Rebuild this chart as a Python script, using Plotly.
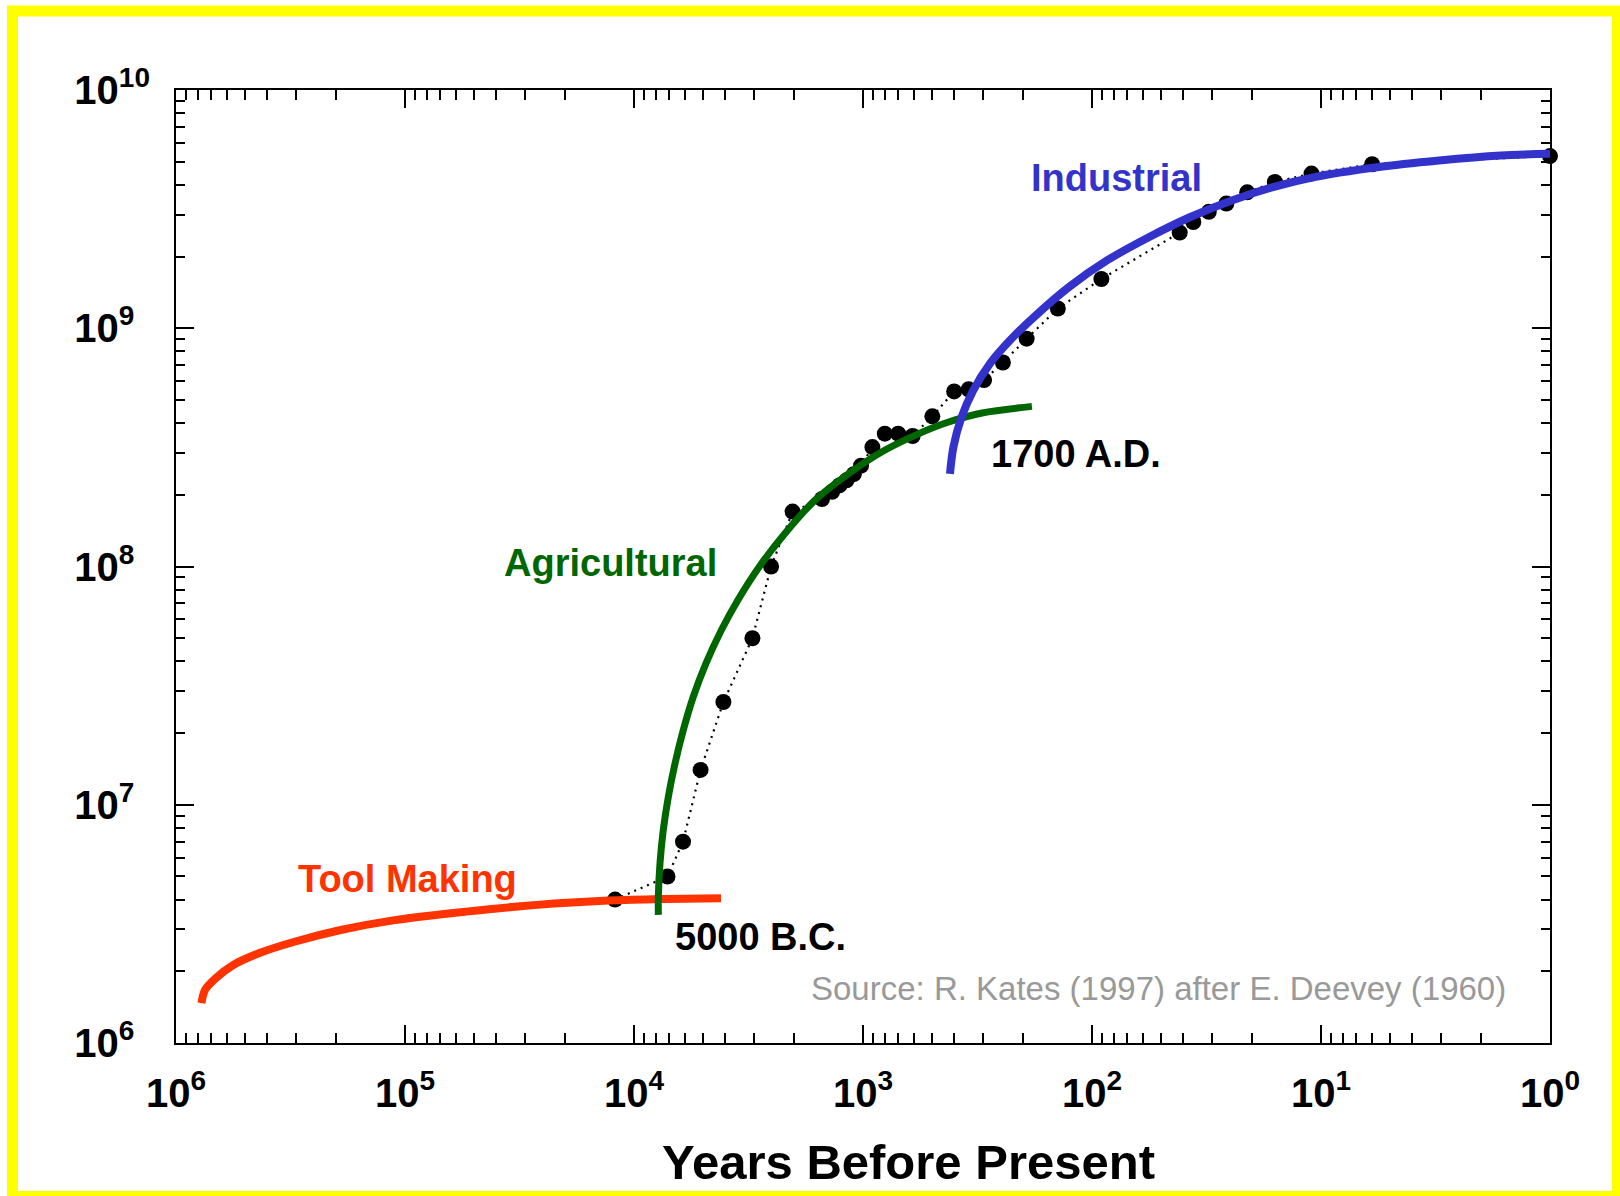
import plotly.graph_objects as go

# ---------------- data ----------------
# Population estimates (dots), years before present
obs_years = [12100, 7140, 6110, 5120, 4070, 3040, 2520, 2030, 1510, 1365, 1268, 1180,
             1097, 1020, 910, 803, 702, 607, 498, 400, 346, 296, 245, 193, 141, 91,
             41.4, 36.1, 30.9, 25.9, 21.0, 15.9, 11.0, 5.98, 1]
obs_pop = [4.0e6, 5.0e6, 7.0e6, 1.4e7, 2.7e7, 5.0e7, 1.0e8, 1.7e8, 1.92e8, 2.06e8,
           2.19e8, 2.30e8, 2.44e8, 2.65e8, 3.17e8, 3.61e8, 3.61e8, 3.53e8, 4.27e8,
           5.43e8, 5.54e8, 6.06e8, 7.18e8, 9.04e8, 1.21e9, 1.61e9, 2.52e9, 2.79e9,
           3.08e9, 3.34e9, 3.72e9, 4.11e9, 4.46e9, 4.88e9, 5.28e9]

# Tool-making era curve
tool_years = [774000, 747000, 671000, 560000, 435000, 304000, 191000, 111000,
              54300, 26500, 12900, 7550, 4170]
tool_pop = [1.47e6, 1.67e6, 1.87e6, 2.13e6, 2.38e6, 2.66e6, 2.98e6, 3.28e6,
            3.56e6, 3.80e6, 3.96e6, 4.02e6, 4.05e6]

# Agricultural era curve
agri_years = [7830, 7830, 7700, 7450, 7080, 6620, 6090, 5510, 4850, 4157, 3522,
              2843, 2202, 1619, 1157, 826, 590, 423, 302, 183]
agri_pop = [3.45e6, 4.11e6, 5.68e6, 7.83e6, 1.08e7, 1.49e7, 2.06e7, 2.84e7, 3.92e7,
            5.40e7, 7.22e7, 9.96e7, 1.37e8, 1.90e8, 2.45e8, 3.03e8, 3.56e8, 4.04e8,
            4.41e8, 4.70e8]

# Industrial era curve
ind_years = [417, 403, 371, 330, 279, 228, 180, 126, 85.7, 56.5, 37.2, 24.5, 16.2,
             10.7, 5.70, 3.05, 1.64, 1.0]
ind_pop = [2.45e8, 3.17e8, 4.24e8, 5.49e8, 7.11e8, 8.90e8, 1.11e9, 1.49e9, 1.93e9,
           2.41e9, 2.93e9, 3.44e9, 3.91e9, 4.31e9, 4.74e9, 5.06e9, 5.31e9, 5.40e9]

# Axis ticks
x_tickvals = [1e6, 1e5, 1e4, 1e3, 1e2, 1e1, 1e0]
x_ticktext = ["10<sup>6</sup>", "10<sup>5</sup>", "10<sup>4</sup>", "10<sup>3</sup>",
              "10<sup>2</sup>", "10<sup>1</sup>", "10<sup>0</sup>"]
y_tickvals = [1e6, 1e7, 1e8, 1e9, 1e10]
# non-breaking spaces keep the one-digit exponents left-aligned like the reference
y_ticktext = ["10<sup>6\u00a0\u00a0</sup>", "10<sup>7\u00a0\u00a0</sup>",
              "10<sup>8\u00a0\u00a0</sup>", "10<sup>9\u00a0\u00a0</sup>",
              "10<sup>10</sup>"]
minor_x = [k * 10 ** n for n in range(0, 6) for k in range(2, 10)]
minor_y = [k * 10 ** n for n in range(6, 10) for k in range(2, 10)]

# ---------------- layout geometry ----------------
W, H = 1620, 1196
ML, MR, MT, MB = 176, 70, 90, 153
PW, PH = W - ML - MR, H - MT - MB


def px_x(px):
    return (px - ML) / PW


def px_y(py):
    return (H - MB - py) / PH


FONT = "Liberation Sans, Arial, Helvetica, sans-serif"
RED, GREEN, BLUE = "#FF3300", "#006600", "#3333CC"

fig = go.Figure()

fig.add_trace(go.Scatter(
    x=obs_years, y=obs_pop, mode="lines+markers",
    line=dict(color="black", width=2.2, dash="2px,5px"),
    marker=dict(color="black", size=16),
    cliponaxis=False, showlegend=False, hoverinfo="x+y"))

fig.add_trace(go.Scatter(
    x=tool_years, y=tool_pop, mode="lines",
    line=dict(color=RED, width=8, shape="spline", smoothing=0.9),
    showlegend=False))
fig.add_trace(go.Scatter(
    x=agri_years, y=agri_pop, mode="lines",
    line=dict(color=GREEN, width=7, shape="spline", smoothing=0.9),
    showlegend=False))
fig.add_trace(go.Scatter(
    x=ind_years, y=ind_pop, mode="lines",
    line=dict(color=BLUE, width=8, shape="spline", smoothing=0.9),
    showlegend=False))

axis_common = dict(
    type="log", showline=True, linecolor="black", linewidth=2, mirror="ticks",
    ticks="inside", ticklen=18, tickwidth=2, tickcolor="black",
    showgrid=False, zeroline=False,
    tickfont=dict(family=FONT, size=40, color="black", weight="bold"),
)

fig.update_layout(
    width=W, height=H,
    margin=dict(l=ML, r=MR, t=MT, b=MB, autoexpand=False),
    paper_bgcolor="white", plot_bgcolor="white",
    xaxis=dict(axis_common, range=[6, 0], tickvals=x_tickvals, ticktext=x_ticktext,
               ticklabelstandoff=14,
               minor=dict(tickvals=minor_x, ticks="inside", ticklen=10, tickwidth=2,
                          tickcolor="black", showgrid=False)),
    yaxis=dict(axis_common, range=[6, 10], tickvals=y_tickvals, ticktext=y_ticktext,
               ticklabelstandoff=16,
               minor=dict(tickvals=minor_y, ticks="inside", ticklen=9, tickwidth=2,
                          tickcolor="black", showgrid=False)),
    showlegend=False,
)

labels = [
    ("Industrial", 1116, 178, BLUE, 38, "bold"),
    ("Agricultural", 610, 563, GREEN, 38, "bold"),
    ("Tool Making", 407, 879, RED, 38, "bold"),
    ("1700 A.D.", 1076, 454, "black", 38, "bold"),
    ("5000 B.C.", 760, 937, "black", 38, "bold"),
    ("Source: R. Kates (1997) after E. Deevey (1960)", 1158, 988, "#999999", 33, "normal"),
    ("Years Before Present", 908, 1162, "black", 49, "bold"),
]
for text, px, py, col, size, weight in labels:
    fig.add_annotation(
        text=text, xref="paper", yref="paper", x=px_x(px), y=px_y(py),
        xanchor="center", yanchor="middle", showarrow=False,
        font=dict(family=FONT, size=size, color=col, weight=weight))

# Yellow frame around the picture
fig.add_shape(type="rect", xref="paper", yref="paper",
              x0=px_x(12.5), x1=px_x(1617.5), y0=px_y(1196.5), y1=px_y(11),
              line=dict(color="#FFFF00", width=11), fillcolor="rgba(0,0,0,0)",
              layer="above")

fig.write_html("out.html", config={"displayModeBar": False},
               post_script="document.body.style.margin='0';document.body.style.overflow='hidden';")
